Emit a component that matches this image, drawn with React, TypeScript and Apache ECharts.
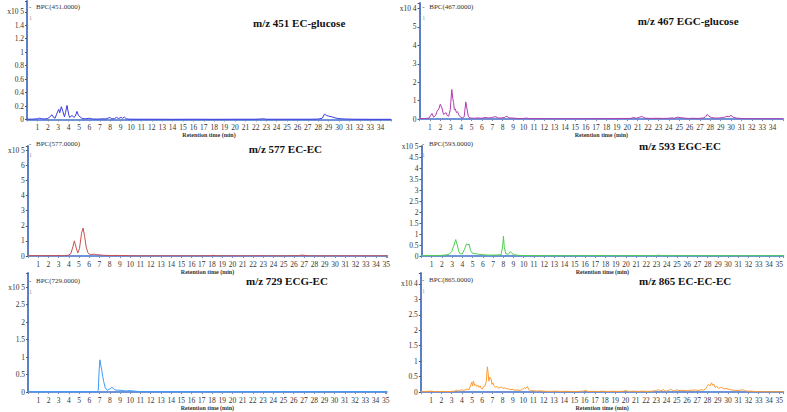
import React, { useEffect, useRef } from "react";
import * as echarts from "echarts";

// ---- data (retention time in min, intensity in units of 10^exp) ----
const titles = [
  "m/z 451 EC-glucose",
  "m/z 467 EGC-glucose",
  "m/z 577 EC-EC",
  "m/z 593 EGC-EC",
  "m/z 729 ECG-EC",
  "m/z 865 EC-EC-EC",
];
const bpcLabels = [
  "BPC(451.0000)",
  "BPC(467.0000)",
  "BPC(577.0000)",
  "BPC(593.0000)",
  "BPC(729.0000)",
  "BPC(865.0000)",
];
const exponents = [5, 4, 5, 5, 5, 4];
const lastXTick = [34, 34, 35, 35, 35, 35];
const expTickValue = [1.6, 6, 7, 5, 3, 3.5];
const yIntervals = [0.2, 1, 1, 0.5, 0.5, 0.5];
const yMaxes = [1.76, 6.3, 7.28, 5.02, 3.4, 3.85];
const xMaxes = [35, 35, 35.1, 35.4, 35.1, 35.4];
const xAxisTitle = "Retention time (min)";

const ecGlucose451 = [
  [0, 0.005], [0.5, 0.005], [1.0, 0.01], [1.2, 0.02], [1.4, 0.012], [1.7, 0.008], [2.0, 0.015], [2.2, 0.04], [2.4, 0.07], [2.55, 0.03],
  [2.7, 0.02], [2.85, 0.08], [3.05, 0.15], [3.15, 0.1], [3.3, 0.19], [3.45, 0.12], [3.6, 0.04], [3.7, 0.1], [3.85, 0.21], [4.0, 0.08],
  [4.1, 0.03], [4.25, 0.05], [4.35, 0.06], [4.5, 0.03], [4.65, 0.05], [4.8, 0.12], [4.95, 0.06], [5.1, 0.04], [5.3, 0.015], [5.6, 0.01],
  [6.0, 0.018], [6.3, 0.008], [6.8, 0.006], [7.2, 0.01], [7.6, 0.008], [7.95, 0.03], [8.15, 0.01], [8.4, 0.012], [8.6, 0.032], [8.8, 0.015],
  [9.05, 0.03], [9.2, 0.018], [9.37, 0.035], [9.55, 0.01], [9.8, 0.005], [10.5, 0.004], [12, 0.004], [14, 0.003], [16, 0.004], [18, 0.003],
  [20, 0.004], [22, 0.004], [22.8, 0.01], [23, 0.004], [25, 0.004], [27, 0.004], [28, 0.006], [28.4, 0.02], [28.6, 0.08], [28.8, 0.06],
  [29.0, 0.05], [29.3, 0.04], [29.6, 0.025], [30.0, 0.012], [30.5, 0.008], [31, 0.006], [31.5, 0.004], [33, 0.003], [35, 0.003],
];

const egcGlucose467 = [
  [0, 0.02], [0.5, 0.02], [0.9, 0.05], [1.19, 0.3], [1.35, 0.1], [1.55, 0.2], [1.67, 0.4], [1.85, 0.55], [1.99, 0.8], [2.15, 0.6],
  [2.3, 0.25], [2.45, 0.3], [2.54, 0.35], [2.65, 0.2], [2.8, 0.15], [2.95, 0.5], [3.1, 1.6], [3.2, 1.1], [3.27, 0.9], [3.35, 0.5],
  [3.43, 0.55], [3.55, 0.35], [3.65, 0.4], [3.8, 0.2], [3.95, 0.1], [4.15, 0.05], [4.3, 0.15], [4.45, 0.93], [4.55, 0.6], [4.7, 0.12],
  [4.85, 0.06], [5.0, 0.05], [5.3, 0.04], [5.6, 0.06], [6.0, 0.04], [6.3, 0.08], [6.6, 0.06], [6.9, 0.07], [7.15, 0.11], [7.35, 0.12],
  [7.6, 0.05], [7.9, 0.06], [8.15, 0.08], [8.4, 0.15], [8.6, 0.06], [9.0, 0.05], [9.4, 0.03], [9.8, 0.02], [10.3, 0.05], [10.6, 0.02],
  [11.5, 0.02], [13, 0.015], [15, 0.015], [17, 0.02], [18.5, 0.02], [19.5, 0.03], [20.3, 0.03], [20.6, 0.08], [20.9, 0.04], [21.2, 0.1],
  [21.4, 0.14], [21.7, 0.05], [22.2, 0.03], [22.9, 0.04], [23.5, 0.03], [24.0, 0.04], [24.3, 0.06], [24.6, 0.04], [24.8, 0.1], [25.1, 0.08],
  [25.5, 0.05], [25.9, 0.03], [26.3, 0.04], [26.8, 0.03], [27.3, 0.05], [27.55, 0.12], [27.7, 0.25], [27.85, 0.15], [28.1, 0.08], [28.5, 0.05],
  [28.9, 0.06], [29.3, 0.08], [29.6, 0.15], [29.8, 0.12], [30.0, 0.2], [30.2, 0.1], [30.5, 0.05], [31, 0.03], [31.5, 0.02], [33, 0.015], [35, 0.01],
];

const ecEc577 = [
  [0, 0.02], [1, 0.02], [2, 0.02], [2.8, 0.03], [2.95, 0.04], [3.2, 0.02], [3.6, 0.02], [3.95, 0.05], [4.2, 0.15], [4.4, 0.6],
  [4.55, 1.0], [4.7, 0.6], [4.88, 0.2], [5.05, 0.5], [5.25, 1.5], [5.4, 1.85], [5.55, 1.3], [5.7, 0.6], [5.85, 0.25], [6.0, 0.12],
  [6.2, 0.1], [6.5, 0.12], [6.75, 0.08], [7.0, 0.08], [7.3, 0.05], [7.7, 0.04], [8.2, 0.03], [8.7, 0.04], [9.1, 0.03], [9.5, 0.03],
  [10.0, 0.015], [11, 0.01], [13, 0.01], [15, 0.01], [17, 0.01], [17.9, 0.02], [18.1, 0.05], [18.4, 0.015], [20, 0.01], [22, 0.01],
  [22.4, 0.02], [23, 0.01], [25, 0.01], [26.4, 0.02], [26.8, 0.06], [27.2, 0.03], [27.6, 0.01], [30, 0.01], [33, 0.01], [35.1, 0.01],
];

const egcEc593 = [
  [0, 0.01], [1, 0.02], [1.5, 0.015], [2, 0.03], [2.4, 0.05], [2.7, 0.08], [2.95, 0.2], [3.15, 0.45], [3.35, 0.75], [3.5, 0.5],
  [3.65, 0.2], [3.8, 0.1], [4.0, 0.1], [4.2, 0.3], [4.4, 0.55], [4.55, 0.5], [4.65, 0.55], [4.8, 0.25], [5.0, 0.12], [5.3, 0.1],
  [5.6, 0.08], [6.0, 0.06], [6.5, 0.04], [7.0, 0.04], [7.5, 0.05], [7.8, 0.06], [7.95, 0.5], [8.02, 0.9], [8.1, 0.4], [8.25, 0.1],
  [8.5, 0.08], [8.7, 0.2], [8.85, 0.12], [9.1, 0.05], [9.5, 0.03], [10, 0.02], [11, 0.015], [13, 0.01], [15, 0.01], [17.4, 0.015],
  [17.6, 0.03], [17.9, 0.01], [20, 0.01], [21.4, 0.02], [22, 0.01], [23.0, 0.02], [23.2, 0.04], [23.5, 0.015], [25, 0.01], [28, 0.01],
  [31, 0.01], [35.4, 0.01],
];

const ecgEc729 = [
  [0, 0.005], [2, 0.005], [4, 0.005], [6, 0.005], [6.75, 0.005], [6.87, 0.05], [6.95, 0.6], [7.03, 0.92], [7.12, 0.75], [7.2, 0.65],
  [7.3, 0.45], [7.4, 0.3], [7.55, 0.12], [7.75, 0.05], [7.95, 0.08], [8.2, 0.13], [8.35, 0.1], [8.5, 0.06], [8.75, 0.05], [9.0, 0.05],
  [9.3, 0.04], [9.6, 0.03], [10.0, 0.04], [10.3, 0.03], [10.6, 0.02], [11.0, 0.01], [12, 0.005], [15, 0.005], [20, 0.005], [24.8, 0.005],
  [25.1, 0.02], [25.4, 0.005], [30, 0.005], [33.1, 0.01], [33.3, 0.005], [35.1, 0.005],
];

const ecEcEc865 = [
  [0, 0.01], [0.5, 0.02], [1.07, 0.03], [1.5, 0.01], [2.0, 0.02], [2.5, 0.015], [3.0, 0.02], [3.3, 0.03], [3.5, 0.06], [3.7, 0.03],
  [4.0, 0.08], [4.2, 0.05], [4.5, 0.1], [4.7, 0.08], [4.85, 0.2], [4.97, 0.32], [5.05, 0.2], [5.13, 0.36], [5.25, 0.22], [5.35, 0.25],
  [5.46, 0.18], [5.6, 0.22], [5.7, 0.15], [5.8, 0.2], [5.9, 0.12], [6.0, 0.1], [6.15, 0.18], [6.27, 0.2], [6.4, 0.35], [6.5, 0.82],
  [6.58, 0.6], [6.65, 0.35], [6.75, 0.48], [6.87, 0.42], [6.95, 0.25], [7.05, 0.3], [7.15, 0.2], [7.3, 0.15], [7.45, 0.18], [7.6, 0.12],
  [7.75, 0.16], [7.9, 0.15], [8.05, 0.12], [8.2, 0.14], [8.4, 0.11], [8.6, 0.1], [8.8, 0.08], [9.0, 0.09], [9.2, 0.06], [9.5, 0.07],
  [9.7, 0.05], [9.9, 0.09], [10.1, 0.14], [10.25, 0.12], [10.4, 0.18], [10.55, 0.08], [10.7, 0.04], [11.0, 0.05], [11.3, 0.03], [11.5, 0.04],
  [12.0, 0.03], [12.5, 0.02], [13.1, 0.03], [13.6, 0.02], [14.2, 0.025], [14.8, 0.02], [15.4, 0.02], [15.9, 0.03], [16.1, 0.06], [16.3, 0.02],
  [16.8, 0.025], [17.4, 0.02], [17.7, 0.03], [18.2, 0.02], [18.8, 0.025], [19.4, 0.02], [19.8, 0.03], [20.0, 0.05], [20.3, 0.02], [20.8, 0.03],
  [21.3, 0.02], [21.6, 0.03], [22.1, 0.02], [22.6, 0.03], [23.0, 0.05], [23.2, 0.08], [23.4, 0.04], [23.7, 0.08], [23.9, 0.03], [24.2, 0.05],
  [24.4, 0.1], [24.6, 0.05], [24.8, 0.04], [25.0, 0.08], [25.2, 0.05], [25.5, 0.06], [25.8, 0.05], [26.1, 0.04], [26.4, 0.06], [26.8, 0.07],
  [27.1, 0.05], [27.4, 0.08], [27.6, 0.06], [27.8, 0.1], [27.95, 0.18], [28.1, 0.25], [28.25, 0.2], [28.4, 0.3], [28.5, 0.22], [28.6, 0.26],
  [28.75, 0.15], [28.9, 0.18], [29.1, 0.12], [29.25, 0.14], [29.4, 0.15], [29.6, 0.1], [29.8, 0.12], [30.0, 0.1], [30.3, 0.07], [30.6, 0.06],
  [30.9, 0.05], [31.2, 0.06], [31.4, 0.08], [31.6, 0.05], [31.9, 0.03], [32.3, 0.03], [32.7, 0.02], [33.0, 0.015], [33.3, 0.01], [34, 0.01], [35.4, 0.01],
];

const seriesData = [ecGlucose451, egcGlucose467, ecEc577, egcEc593, ecgEc729, ecEcEc865];

// ---- layout & style ----
const lineColors = ["#3a3ae0", "#b03cb0", "#c85050", "#4ccf4c", "#3d9bf5", "#ff9a30"];
const gridBoxes = [
  { left: 27, top: 1, width: 364, height: 118.5 },
  { left: 419.6, top: 3, width: 363.4, height: 116 },
  { left: 27.8, top: 146, width: 359.4, height: 110 },
  { left: 421.5, top: 146, width: 361.8, height: 110 },
  { left: 28.1, top: 273, width: 358.6, height: 119 },
  { left: 420.8, top: 273, width: 362.5, height: 119.3 },
];
const titlePos = [[253, 23], [637.7, 21], [248.7, 149], [639, 146], [246, 281], [639, 281]];
const bpcPos = [[36, 7], [429.3, 7], [36, 144], [429, 144], [36, 281], [429, 280]];

const axisBlue = "#5b80c8";
const labelFont = '"Liberation Serif", "DejaVu Serif", serif';

export default function App() {
  const ref = useRef<HTMLDivElement>(null);
  useEffect(() => {
    if (!ref.current) return;
    const chart = echarts.init(ref.current, undefined, { renderer: "svg" });
    const grid: any[] = [];
    const xAxis: any[] = [];
    const yAxis: any[] = [];
    const series: any[] = [];
    const graphic: any[] = [];
    for (let i = 0; i < 6; i++) {
      grid.push({ ...gridBoxes[i], containLabel: false });
      const lastX = lastXTick[i];
      xAxis.push({
        type: "value",
        gridIndex: i,
        min: 0,
        max: xMaxes[i],
        interval: 1,
        name: xAxisTitle,
        nameLocation: "middle",
        nameGap: 11,
        nameTextStyle: { fontSize: 6, fontFamily: labelFont, color: "#333", fontWeight: "bold" },
        axisLine: { show: true, onZero: false, lineStyle: { color: "#6f93d8", width: 2 } },
        axisTick: { show: true, length: 2, lineStyle: { color: "#7a8fb8", width: 1 } },
        axisLabel: {
          fontSize: 7.5,
          fontFamily: labelFont,
          color: "#333",
          margin: 4,
          showMinLabel: true,
          showMaxLabel: true,
          formatter: (v: number) =>
            Math.abs(v - Math.round(v)) < 1e-6 && v >= 1 && v <= lastX ? String(Math.round(v)) : "",
        },
        splitLine: { show: false },
      });
      const topV = expTickValue[i];
      const step = yIntervals[i];
      const expo = exponents[i];
      yAxis.push({
        type: "value",
        gridIndex: i,
        min: 0,
        max: yMaxes[i],
        interval: step,
        axisLine: { show: true, onZero: false, lineStyle: { color: axisBlue, width: 2 } },
        axisTick: { show: true, length: 2, lineStyle: { color: "#555", width: 1 } },
        axisLabel: {
          fontSize: 7.5,
          fontFamily: labelFont,
          color: "#333",
          margin: 3,
          showMaxLabel: true,
          formatter: (v: number) => {
            if (Math.abs(v - topV) < 1e-6) return "x10 " + expo;
            if (v > topV) return "";
            const r = Math.round(v / step);
            if (Math.abs(v - r * step) > 1e-6) return "";
            return String(+v.toFixed(2));
          },
        },
        splitLine: { show: false },
      });
      series.push({
        type: "line",
        xAxisIndex: i,
        yAxisIndex: i,
        data: seriesData[i],
        showSymbol: false,
        symbol: "none",
        smooth: false,
        lineStyle: { color: lineColors[i], width: 1 },
        itemStyle: { color: lineColors[i] },
        z: 3,
      });
      graphic.push({
        type: "text",
        x: titlePos[i][0],
        y: titlePos[i][1],
        style: {
          text: titles[i],
          fill: "#111",
          font: 'bold 11px "Liberation Serif", "Times New Roman", serif',
          verticalAlign: "middle",
          align: "left",
        },
      });
      graphic.push({
        type: "text",
        x: bpcPos[i][0],
        y: bpcPos[i][1],
        style: {
          text: bpcLabels[i],
          fill: "#333",
          font: '7px "Liberation Serif", serif',
          verticalAlign: "middle",
          align: "left",
        },
      });
      graphic.push({
        type: "text",
        x: bpcPos[i][0] - 7,
        y: bpcPos[i][1],
        style: { text: "-", fill: "#333", font: '7px "Liberation Serif", serif', verticalAlign: "middle" },
      });
      graphic.push({
        type: "text",
        x: bpcPos[i][0] - 7,
        y: bpcPos[i][1] + 11,
        style: { text: "1", fill: "#999", font: '6px "Liberation Serif", serif', verticalAlign: "middle" },
      });
    }
    chart.setOption({
      animation: false,
      backgroundColor: "#ffffff",
      grid,
      xAxis,
      yAxis,
      series,
      graphic,
    });
    return () => chart.dispose();
  }, []);
  return (
    <div
      ref={ref}
      style={{ position: "absolute", left: 0, top: 0, width: 787, height: 412, background: "#fff" }}
    />
  );
}
